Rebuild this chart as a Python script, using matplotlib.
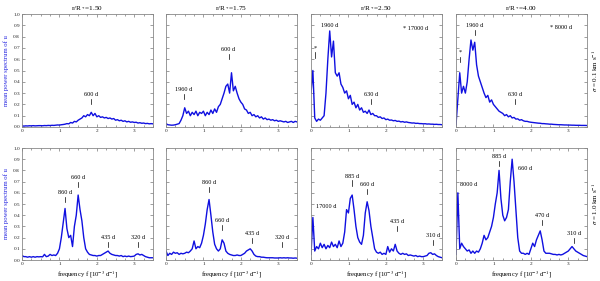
import numpy as np
import matplotlib
matplotlib.use("Agg")
import matplotlib.pyplot as plt

plt.rcParams['font.family'] = ['Liberation Serif', 'DejaVu Serif']
plt.rcParams['mathtext.fontset'] = 'stix'

# frequency grid [10^-3 d^-1]
freq = np.arange(71) * 0.05

radii = ["1.50", "1.75", "2.50", "4.00"]
sigmas = ["0.1", "1.0"]

# sigma = 0.1 km/s (top row)
top_150 = [0.01, 0.008, 0.01, 0.009, 0.011, 0.01, 0.012, 0.01, 0.011, 0.012,
           0.012, 0.011, 0.013, 0.012, 0.014, 0.013, 0.015, 0.014, 0.016, 0.018,
           0.017, 0.02, 0.022, 0.025, 0.03, 0.028, 0.04, 0.035, 0.05, 0.045,
           0.06, 0.07, 0.08, 0.1, 0.09, 0.11, 0.1, 0.13, 0.1, 0.12,
           0.09, 0.1, 0.085, 0.09, 0.08, 0.085, 0.075, 0.08, 0.07, 0.075,
           0.06, 0.065, 0.055, 0.06, 0.05, 0.055, 0.045, 0.05, 0.042, 0.045,
           0.04, 0.042, 0.035, 0.038, 0.033, 0.035, 0.03, 0.032, 0.028, 0.03,
           0.028]
top_175 = [0.03, 0.02, 0.018, 0.016, 0.017, 0.02, 0.025, 0.03, 0.06, 0.1,
           0.17, 0.12, 0.14, 0.1, 0.13, 0.11, 0.14, 0.1, 0.13, 0.12,
           0.14, 0.1, 0.13, 0.11, 0.15, 0.12, 0.16, 0.13, 0.18, 0.2,
           0.25, 0.3, 0.36, 0.38, 0.3, 0.48, 0.32, 0.36, 0.3, 0.25,
           0.22, 0.2, 0.16, 0.15, 0.12, 0.13, 0.1, 0.11, 0.09, 0.1,
           0.08, 0.09, 0.07, 0.08, 0.065, 0.07, 0.06, 0.065, 0.055, 0.06,
           0.05, 0.055, 0.05, 0.045, 0.05, 0.04, 0.045, 0.05, 0.04, 0.05,
           0.045]
top_250 = [0.3, 0.5, 0.08, 0.05, 0.07, 0.06, 0.08, 0.1, 0.3, 0.6,
           0.85, 0.62, 0.76, 0.48, 0.45, 0.48, 0.38, 0.35, 0.3, 0.32,
           0.25, 0.28, 0.2, 0.22, 0.17, 0.2, 0.15, 0.17, 0.13, 0.14,
           0.12, 0.15, 0.11, 0.12, 0.1, 0.1, 0.085, 0.09, 0.075, 0.08,
           0.065, 0.07, 0.06, 0.062, 0.055, 0.058, 0.05, 0.052, 0.045, 0.048,
           0.042, 0.045, 0.04, 0.038, 0.035, 0.036, 0.032, 0.033, 0.03, 0.03,
           0.028, 0.029, 0.026, 0.027, 0.025, 0.025, 0.023, 0.024, 0.022, 0.022,
           0.02]
top_400 = [0.02, 0.25, 0.48, 0.3, 0.36, 0.3, 0.4, 0.6, 0.77, 0.68,
           0.75, 0.55, 0.45, 0.4, 0.35, 0.3, 0.26, 0.28, 0.22, 0.24,
           0.2, 0.18, 0.16, 0.14, 0.13, 0.12, 0.1, 0.11, 0.09, 0.1,
           0.08, 0.085, 0.07, 0.072, 0.06, 0.065, 0.055, 0.05, 0.05, 0.045,
           0.042, 0.04, 0.038, 0.036, 0.034, 0.033, 0.03, 0.03, 0.028, 0.027,
           0.025, 0.025, 0.023, 0.022, 0.021, 0.02, 0.02, 0.019, 0.018, 0.018,
           0.017, 0.017, 0.016, 0.016, 0.015, 0.015, 0.015, 0.014, 0.014, 0.014,
           0.013]

# sigma = 1.0 km/s (bottom row)
bot_150 = [0.04, 0.03, 0.03, 0.025, 0.03, 0.025, 0.03, 0.025, 0.03, 0.028,
           0.03, 0.028, 0.05, 0.03, 0.035, 0.05, 0.04, 0.045, 0.04, 0.06,
           0.1, 0.2, 0.33, 0.46, 0.28, 0.2, 0.22, 0.12, 0.3, 0.4,
           0.58, 0.45, 0.35, 0.2, 0.1, 0.07, 0.05, 0.045, 0.04, 0.04,
           0.035, 0.04, 0.04, 0.05, 0.06, 0.07, 0.08, 0.06, 0.05, 0.045,
           0.04, 0.04, 0.035, 0.04, 0.03, 0.035, 0.03, 0.035, 0.03, 0.032,
           0.035, 0.05, 0.055, 0.045, 0.05, 0.04, 0.03, 0.025, 0.02, 0.02,
           0.02]
bot_175 = [0.08, 0.04, 0.06, 0.05, 0.07, 0.06, 0.065, 0.05, 0.06, 0.055,
           0.06, 0.07, 0.065, 0.08, 0.1, 0.17, 0.1, 0.12, 0.11, 0.15,
           0.22, 0.32, 0.45, 0.54, 0.4, 0.25, 0.14, 0.1, 0.08, 0.1,
           0.18, 0.15, 0.08, 0.06, 0.05, 0.045, 0.04, 0.04, 0.045, 0.04,
           0.04, 0.05, 0.06, 0.08, 0.09, 0.1, 0.08, 0.05, 0.035, 0.03,
           0.03, 0.025, 0.025, 0.022, 0.02, 0.02, 0.02, 0.02, 0.018, 0.018,
           0.018, 0.02, 0.018, 0.02, 0.018, 0.02, 0.018, 0.018, 0.016, 0.018,
           0.016]
bot_250 = [0.05, 0.38, 0.08, 0.12, 0.1, 0.15, 0.11, 0.14, 0.1, 0.13,
           0.11, 0.16, 0.12, 0.14, 0.11, 0.17, 0.12, 0.15, 0.25, 0.45,
           0.42, 0.55, 0.58, 0.45, 0.3, 0.2, 0.16, 0.14, 0.22, 0.42,
           0.52, 0.44, 0.3, 0.2, 0.1, 0.07, 0.06, 0.07, 0.05, 0.06,
           0.05, 0.12, 0.07, 0.1, 0.08, 0.14, 0.08, 0.06, 0.05, 0.06,
           0.05, 0.055, 0.04, 0.045, 0.04, 0.035, 0.04, 0.03, 0.035, 0.03,
           0.03, 0.035, 0.04, 0.06, 0.065, 0.05, 0.055, 0.04, 0.03, 0.025,
           0.02]
bot_400 = [0.05, 0.6, 0.1, 0.15, 0.12, 0.1, 0.08, 0.09, 0.06, 0.08,
           0.06, 0.08, 0.07, 0.1, 0.15, 0.22, 0.18, 0.2, 0.25, 0.3,
           0.38, 0.5, 0.6, 0.8, 0.55, 0.4, 0.35, 0.38, 0.45, 0.7,
           0.9, 0.7, 0.45, 0.2, 0.08, 0.06, 0.06, 0.05, 0.06, 0.05,
           0.1, 0.15, 0.12, 0.18, 0.22, 0.26, 0.18, 0.08, 0.06, 0.06,
           0.06, 0.055, 0.05, 0.05, 0.045, 0.05, 0.045, 0.05, 0.06, 0.07,
           0.08, 0.1, 0.12, 0.1, 0.08, 0.07, 0.06, 0.05, 0.04, 0.035,
           0.03]

spectra = [[top_150, top_175, top_250, top_400],
           [bot_150, bot_175, bot_250, bot_400]]

# period labels: (text, x, y, draw tick)
labels = [
    [[("600 d", 1.85, 0.29, True)],
     [("1960 d", 0.48, 0.33, True), ("600 d", 1.67, 0.69, True)],
     [("*", 0.12, 0.70, True), ("1960 d", 0.5, 0.90, False),
      ("* 17000 d", 2.8, 0.875, False), ("630 d", 1.6, 0.29, True)],
     [("*", 0.12, 0.66, True), ("1960 d", 0.5, 0.90, True),
      ("* 8000 d", 2.8, 0.88, False), ("630 d", 1.58, 0.29, True)]],
    [[("860 d", 1.15, 0.60, True), ("660 d", 1.5, 0.74, True),
      ("435 d", 2.3, 0.20, True), ("320 d", 3.1, 0.20, True)],
     [("860 d", 1.15, 0.69, True), ("660 d", 1.5, 0.35, True),
      ("435 d", 2.3, 0.24, True), ("320 d", 3.1, 0.20, True)],
     [("17000 d", 0.4, 0.48, False), ("885 d", 1.1, 0.75, True),
      ("660 d", 1.5, 0.67, True), ("435 d", 2.3, 0.34, True),
      ("310 d", 3.25, 0.22, True)],
     [("8000 d", 0.33, 0.67, False), ("885 d", 1.15, 0.92, True),
      ("660 d", 1.85, 0.82, False), ("470 d", 2.3, 0.40, True),
      ("310 d", 3.15, 0.24, True)]],
]

fig = plt.figure(figsize=(6.0, 2.81), dpi=100)
W, H = 600.0, 281.0
lefts = [22, 166, 311, 456]
width = 131
rows = [(14, 127), (148, 260)]

for r in range(2):
    for c in range(4):
        top, bot = rows[r]
        ax = fig.add_axes([lefts[c] / W, 1 - bot / H, width / W, (bot - top) / H])
        ax.plot(freq, spectra[r][c], color='#1010e0', lw=1.0)
        ax.set_xlim(0, 3.5)
        ax.set_ylim(0, 1.0)
        ax.set_xticks([0, 1, 2, 3])
        ax.set_xticks(np.arange(0, 3.51, 0.25), minor=True)
        ax.set_yticks(np.arange(0, 1.01, 0.1))
        ax.tick_params(direction='in', top=True, right=True, length=2,
                       width=0.4, labelsize=3.8, pad=1.5, colors='#555555',
                       labelcolor='#222222')
        ax.tick_params(which='minor', direction='in', top=True, length=1.2,
                       width=0.4, colors='#555555')
        if c == 0:
            ax.set_yticklabels(["%.1f" % v for v in np.arange(0, 1.01, 0.1)])
            ax.set_ylabel("mean power spectrum of u", color='#2020e0',
                          fontsize=4.8, labelpad=3)
        else:
            ax.set_yticklabels([])
        for s in ax.spines.values():
            s.set_color('#888888')
            s.set_linewidth(0.6)
        if r == 0:
            ax.set_title("r/R$_*$=" + radii[c], fontsize=5.2, pad=3)
        else:
            ax.set_xlabel("frequency f [10$^{-3}$ d$^{-1}$]", fontsize=4.8,
                          labelpad=2)
        for txt, x, y, tick in labels[r][c]:
            ax.text(x, y, txt, fontsize=4.5, ha='center', va='center')
            if tick:
                ax.plot([x, x], [y - 0.085, y - 0.04], color='black', lw=0.5)
        if c == 3:
            ax.text(1.06, 0.5, r"$\sigma$ = " + sigmas[r] + " km s$^{-1}$",
                    transform=ax.transAxes, rotation=90, fontsize=5,
                    ha='center', va='center')

fig.savefig("out.png", dpi=100)
